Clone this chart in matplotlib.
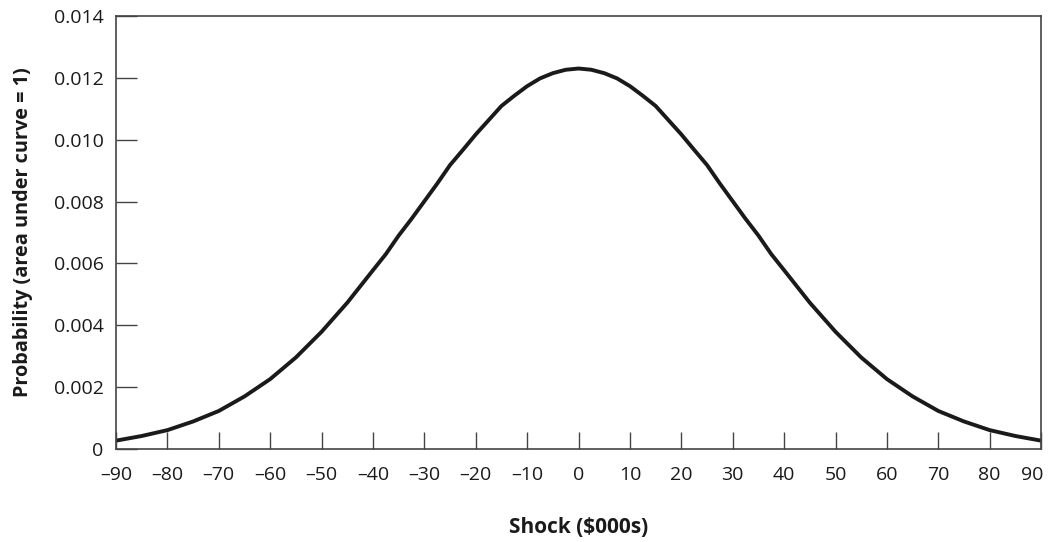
import matplotlib
matplotlib.use('Agg')
import matplotlib.pyplot as plt
import matplotlib.transforms as mtransforms

# values (denser near the peak)
shock = [-90, -85, -80, -75, -70, -65, -60, -55, -50, -45, -40,
         -37.5, -35, -32.5, -30, -27.5, -25, -22.5, -20, -17.5, -15, -12.5, -10, -7.5, -5, -2.5,
         0,
         2.5, 5, 7.5, 10, 12.5, 15, 17.5, 20, 22.5, 25, 27.5, 30, 32.5, 35, 37.5,
         40, 45, 50, 55, 60, 65, 70, 75, 80, 85, 90]
prob = [0.00027, 0.00042, 0.00061, 0.00089, 0.00123, 0.00170, 0.00226, 0.00296, 0.00379, 0.00473, 0.00578,
        0.00630, 0.00690, 0.00744, 0.00801, 0.00858, 0.00918, 0.00967, 0.01017, 0.01063, 0.01109,
        0.01142, 0.01173, 0.01198, 0.01215, 0.01226,
        0.01230,
        0.01226, 0.01215, 0.01198, 0.01173, 0.01142, 0.01109, 0.01063, 0.01017, 0.00967, 0.00918,
        0.00858, 0.00801, 0.00744, 0.00690, 0.00630,
        0.00578, 0.00473, 0.00379, 0.00296, 0.00226, 0.00170, 0.00123, 0.00089, 0.00061, 0.00042, 0.00027]

xticks = list(range(-90, 91, 10))
xticklabels = [str(t).replace('-', '\u2013') for t in xticks]
yticks = [0, 0.002, 0.004, 0.006, 0.008, 0.010, 0.012, 0.014]
yticklabels = ['0', '0.002', '0.004', '0.006', '0.008', '0.010', '0.012', '0.014']

plt.rcParams['font.family'] = ['Open Sans', 'DejaVu Sans']

fig = plt.figure(figsize=(10.5, 5.42), dpi=100)
ax = fig.add_axes([0.1105, 0.1716, 0.881, 0.799])

ax.plot(shock, prob, color='#1a1a1a', linewidth=2.8, solid_joinstyle='round')

ax.set_xlim(-90, 90)
ax.set_ylim(0, 0.014)
ax.set_xticks(xticks)
ax.set_xticklabels(xticklabels)
ax.set_yticks(yticks)
ax.set_yticklabels(yticklabels)

for s in ax.spines.values():
    s.set_color('#444444')
    s.set_linewidth(1.2)

ax.tick_params(axis='x', direction='in', length=12, width=1.0, color='#444444',
               labelsize=14, pad=12, labelcolor='#1a1a1a')
ax.tick_params(axis='y', direction='in', length=15, width=1.0, color='#444444',
               labelsize=14, pad=9, labelcolor='#1a1a1a')

# last x label sits a little left so it stays inside the figure
last = ax.get_xticklabels()[-1]
last.set_transform(last.get_transform() + mtransforms.ScaledTranslation(-9 / 100, 0, fig.dpi_scale_trans))

ax.set_xlabel('Shock ($000s)', fontsize=15, fontweight='bold', labelpad=24, color='#1a1a1a')
ax.set_ylabel('Probability (area under curve = 1)', fontsize=14.3, fontweight='bold',
              labelpad=15, color='#1a1a1a')

fig.savefig('out.png', dpi=100)
